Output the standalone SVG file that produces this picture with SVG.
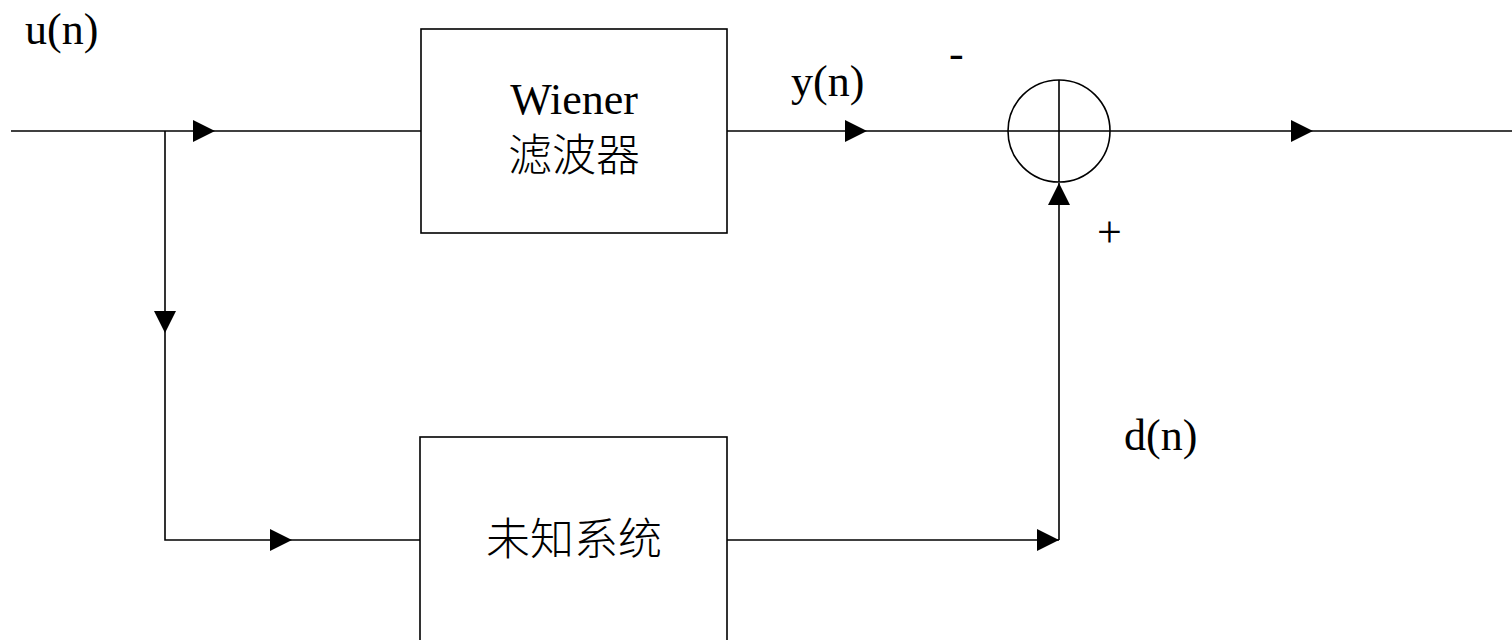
<svg xmlns="http://www.w3.org/2000/svg" width="1512" height="640" viewBox="0 0 1512 640">
<style>
.ln{fill:none;stroke:#000;stroke-width:1.6}
.box{fill:#fff;stroke:#000;stroke-width:1.6}
.lbl{font-family:"Liberation Serif","Noto Sans CJK SC",serif;font-size:44px;fill:#000}
.cjk{font-weight:300}
.arr{marker-end:url(#ah)}
</style>
<defs>
<marker id="ah" viewBox="0 0 22 22" refX="22" refY="11" markerWidth="22" markerHeight="22" markerUnits="userSpaceOnUse" orient="auto">
<path d="M0,0 L22,11 L0,22 z" fill="#000"/>
</marker>
</defs>
<rect width="1512" height="640" fill="#fff"/>
<g id="connectors">
<path class="ln arr" d="M11,131 H215"/>
<path class="ln" d="M215,131 H421"/>
<path class="ln arr" d="M165,131 V333"/>
<path class="ln arr" d="M165,333 V540 H292"/>
<path class="ln" d="M292,540 H420"/>
<path class="ln arr" d="M727,131 H867"/>
<path class="ln" d="M867,131 H1008"/>
<path class="ln arr" d="M1110,131 H1313"/>
<path class="ln" d="M1313,131 H1512"/>
<path class="ln arr" d="M727,540 H1059"/>
<path class="ln arr" d="M1059,540 V183"/>
</g>
<g id="wiener">
<rect class="box" x="421" y="29" width="306" height="204"/>
<text class="lbl" x="574" y="114" text-anchor="middle">Wiener</text>
<text class="lbl cjk" x="574" y="171" text-anchor="middle">滤波器</text>
</g>
<g id="unknown">
<rect class="box" x="420" y="437" width="307" height="215"/>
<text class="lbl cjk" x="574" y="555" text-anchor="middle">未知系统</text>
</g>
<g id="sum">
<circle class="ln" cx="1059" cy="131" r="51"/>
<path class="ln" d="M1008,131 H1110 M1059,80 V182"/>
<text class="lbl" x="949" y="68">-</text>
<text class="lbl" x="1097" y="247">+</text>
</g>
<g id="labels">
<text class="lbl" x="25" y="44">u(n)</text>
<text class="lbl" x="791" y="96">y(n)</text>
<text class="lbl" x="1124" y="450">d(n)</text>
</g>
</svg>
